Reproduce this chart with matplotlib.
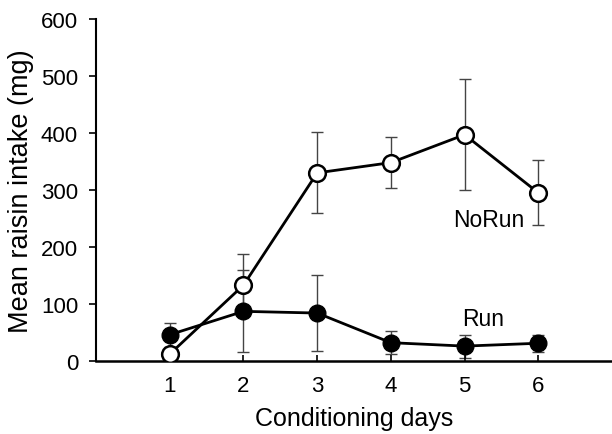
import matplotlib
matplotlib.use("Agg")
import matplotlib.pyplot as plt

plt.rcParams["font.family"] = ["Liberation Sans", "DejaVu Sans"]

days = [1, 2, 3, 4, 5, 6]
norun_mean = [12, 133, 330, 348, 397, 295]
norun_err = [8, 54, 71, 45, 97, 57]
run_mean = [46, 87, 84, 32, 26, 31]
run_err = [21, 72, 66, 20, 20, 15]

fig = plt.figure(figsize=(6.12, 4.35), dpi=100)
ax = fig.add_axes([0.157, 0.168, 0.843, 0.786])

ax.errorbar(days, norun_mean, yerr=norun_err, fmt="none", ecolor="#444444",
            elinewidth=1.0, capsize=4, capthick=1.0, zorder=1)
ax.errorbar(days, run_mean, yerr=run_err, fmt="none", ecolor="#444444",
            elinewidth=1.0, capsize=4, capthick=1.0, zorder=1)
ax.plot(days, norun_mean, color="black", lw=2, marker="o", ms=12,
        mfc="white", mec="black", mew=1.8, zorder=3)
ax.plot(days, run_mean, color="black", lw=2, marker="o", ms=12,
        mfc="black", mec="black", zorder=3)

ax.text(4.85, 249, "NoRun", fontsize=16.5, va="center", ha="left")
ax.text(4.96, 74, "Run", fontsize=16.5, va="center", ha="left")

ax.set_xlim(0, 7)
ax.set_ylim(0, 600)
ax.set_xticks(days)
ax.set_yticks(range(0, 601, 100))
ax.spines["top"].set_visible(False)
ax.spines["right"].set_visible(False)
ax.spines["left"].set_linewidth(1.5)
ax.spines["bottom"].set_linewidth(1.8)
ax.tick_params(axis="y", labelsize=16, width=1.2, length=5, direction="out", pad=8)
ax.tick_params(axis="x", labelsize=16, width=1.2, length=4, direction="in", pad=10)
ax.set_xlabel("Conditioning days", fontsize=18, labelpad=7)
ax.set_ylabel("Mean raisin intake (mg)", fontsize=19.5, labelpad=5)

fig.savefig("out.png", dpi=100)
